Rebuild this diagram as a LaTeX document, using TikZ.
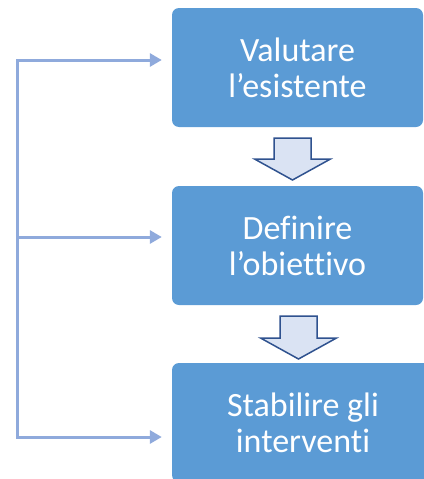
\documentclass[tikz,border=0pt]{standalone}
\usepackage{fontspec}
\setmainfont{Carlito}[Ligatures={NoCommon}]
\usetikzlibrary{arrows.meta, calc, positioning}
\definecolor{boxblue}{RGB}{91,155,213}
\definecolor{linkblue}{RGB}{143,170,220}
\definecolor{downfill}{RGB}{218,227,243}
\definecolor{downedge}{RGB}{47,82,143}

\begin{document}
\begin{tikzpicture}[x=1pt, y=-1pt, line join=miter, >={Triangle[length=12pt,width=13pt]},
	stepbox/.style={rectangle, rounded corners=7pt, fill=boxblue, text=white, align=center,
		minimum width=251pt, minimum height=119pt, inner sep=0pt, font=\fontsize{34}{36}\selectfont},
	downarrow/.style={fill=downfill, draw=downedge, line width=1.5pt},
	link/.style={draw=linkblue, line width=3pt, shorten >=10pt, shorten <=10pt}]

		\useasboundingbox (0,0) rectangle (423,479);

		% steps
		\node[stepbox] (valutare) at (297.5,67.5) {Valutare\\l’esistente};
		\node[stepbox] (definire) at (297.5,245.5) {Definire\\l’obiettivo};
		\node[stepbox, minimum width=262pt] (stabilire) at (303,422.5) {Stabilire gli\\interventi};

		% block arrows between the steps
		\coordinate (down1) at (292.5,138);
		\coordinate (down2) at (298.5,316);
		\draw[downarrow] (down1) ++(-18.5,0) -- ++(37,0) -- ++(0,21) -- ++(19.5,0) -- ++(-38,21) -- ++(-38,-21) -- ++(19.5,0) -- cycle;
		\draw[downarrow] (down2) ++(-18.5,0) -- ++(37,0) -- ++(0,22) -- ++(19.5,0) -- ++(-38,21) -- ++(-38,-21) -- ++(19.5,0) -- cycle;

		% feedback rail on the left
		\coordinate (rail top) at (17,60);
		\coordinate (rail mid) at (17,237);
		\coordinate (rail bottom) at (17,437);
		\draw[link, <->, shorten <=10pt] (valutare.west |- rail top) -- (rail top) -- (rail bottom) -- (stabilire.west |- rail bottom);
		\draw[link, ->, shorten <=0pt] (rail mid) -- (definire.west |- rail mid);
\end{tikzpicture}
\end{document}
